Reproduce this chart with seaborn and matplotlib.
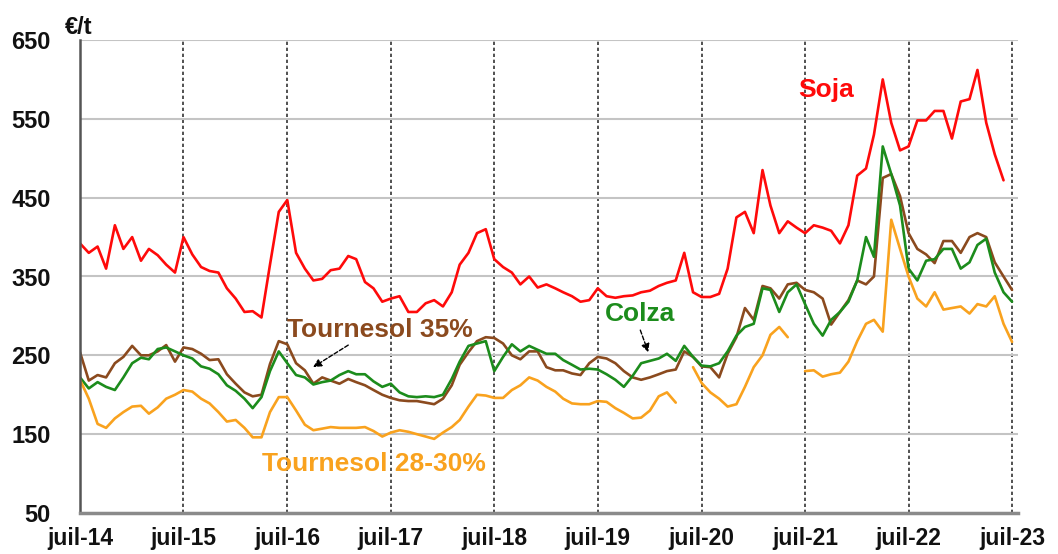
import numpy as np
import pandas as pd
import matplotlib
matplotlib.use("Agg")
import matplotlib.pyplot as plt
import seaborn as sns

# =========================
# DATA (monthly, €/t)
# =========================
dates = pd.date_range("2014-07-01", periods=109, freq="MS")

soja = [392, 380, 388, 360, 415, 385, 400, 370, 385, 377, 365, 355,
        400, 378, 362, 357, 355, 335, 322, 305, 306, 298, 365, 432,
        447, 380, 360, 345, 347, 358, 360, 376, 372, 343, 335, 318,
        322, 325, 305, 305, 316, 320, 312, 330, 365, 380, 405, 410,
        372, 362, 355, 340, 350, 336, 340, 335, 330, 325, 318, 320,
        335, 325, 323, 325, 326, 330, 332, 338, 342, 345, 380, 330,
        324, 324, 328, 360, 425, 432, 405, 485, 440, 405, 420, 412,
        405, 415, 412, 408, 392, 415, 478, 487, 530, 600, 545, 510,
        515, 548, 548, 560, 560, 525, 572, 575, 612, 545, 505, 472,
        np.nan]

tournesol_35 = [254, 218, 225, 222, 240, 248, 262, 250, 250, 255, 263, 242,
                260, 258, 252, 244, 245, 226, 214, 203, 198, 200, 239, 268,
                264, 240, 231, 214, 222, 218, 214, 220, 216, 212, 206, 200,
                196, 193, 192, 192, 190, 188, 195, 212, 238, 254, 268, 273,
                272, 265, 250, 245, 255, 255, 235, 231, 231, 227, 225, 240,
                248, 246, 240, 230, 222, 219, 222, 226, 230, 232, 255, 248,
                236, 235, 222, 252, 273, 310, 295, 338, 335, 322, 340, 342,
                333, 330, 322, 289, 305, 320, 345, 340, 350, 475, 480, 452,
                405, 385, 378, 367, 395, 395, 380, 400, 405, 400, 368, 350,
                333]

colza = [222, 208, 216, 210, 206, 222, 240, 247, 245, 258, 260, 255,
         250, 246, 236, 233, 226, 212, 205, 195, 183, 197, 230, 255,
         240, 225, 222, 213, 216, 218, 225, 230, 226, 226, 217, 210,
         214, 203, 198, 197, 198, 197, 200, 220, 242, 262, 265, 268,
         230, 248, 264, 255, 262, 257, 252, 252, 244, 238, 232, 233,
         232, 226, 219, 210, 224, 240, 243, 246, 252, 243, 262, 248,
         237, 236, 240, 255, 275, 286, 290, 335, 333, 305, 330, 340,
         315, 290, 275, 295, 305, 318, 345, 400, 375, 515, 480, 440,
         360, 345, 370, 372, 385, 385, 360, 368, 390, 398, 355, 330,
         318]

tournesol_28_30 = [219, 195, 163, 158, 170, 178, 185, 186, 176, 184, 195, 200,
                   206, 204, 195, 189, 178, 166, 168, 158, 146, 146, 178, 197,
                   197, 180, 162, 155, 157, 159, 158, 158, 158, 159, 154, 147,
                   152, 155, 153, 150, 147, 144, 152, 159, 168, 185, 200, 199,
                   196, 196, 206, 212, 222, 218, 210, 204, 195, 189, 188, 188,
                   192, 191, 183, 177, 170, 171, 180, 198, 203, 190, np.nan, 235,
                   215, 203, 195, 185, 188, 210, 235, 250, 276, 286, 273, np.nan,
                   230, 231, 223, 226, 228, 242, 268, 290, 295, 280, 422, 385,
                   350, 322, 312, 330, 308, 310, 312, 303, 315, 312, 325, 290,
                   267]

series_names = ["Soja", "Tournesol 35%", "Colza", "Tournesol 28-30%"]
series_values = [soja, tournesol_35, colza, tournesol_28_30]
series_colors = ["#FF0A0A", "#8B4A1E", "#1C8C1C", "#F9A21E"]

year_ticks = pd.date_range("2014-07-01", "2023-07-01", freq="12MS")
year_labels = [f"juil-{d.year % 100:02d}" for d in year_ticks]

# =========================
# STYLE
# =========================
sns.set_style("white")
plt.rcParams["font.family"] = ["Liberation Sans", "DejaVu Sans"]
plt.rcParams["font.weight"] = "bold"

fig = plt.figure(figsize=(10.58, 5.54), dpi=100)
ax = fig.add_axes([80 / 1058, 41 / 554, 938 / 1058, 473 / 554])

# =========================
# LINES
# =========================
for name, values, color in zip(series_names, series_values, series_colors):
    df = pd.DataFrame({"date": dates, "value": values})
    df["seg"] = df["value"].isna().cumsum()
    df = df.dropna()
    sns.lineplot(data=df, x="date", y="value", units="seg", estimator=None,
                 color=color, lw=1.9, ax=ax, legend=False)

# =========================
# AXES
# =========================
ax.set_xlim(pd.Timestamp("2014-07-01"), pd.Timestamp("2023-07-22"))
ax.set_ylim(50, 650)
ax.set_yticks(range(50, 651, 100))
ax.set_xticks(year_ticks)
ax.set_xticklabels(year_labels)
ax.set_xlabel("")
ax.set_ylabel("")

ax.yaxis.grid(True, color="#C4C4C4", lw=1.5)
ax.xaxis.grid(True, color="#333333", lw=1.2, ls=(0, (2, 1.6)))
ax.set_axisbelow(True)

for side in ["top", "right"]:
    ax.spines[side].set_visible(False)
ax.spines["left"].set_color("#555555")
ax.spines["left"].set_linewidth(1.8)
ax.spines["bottom"].set_color("#8A8A8A")
ax.spines["bottom"].set_linewidth(2.5)

ax.tick_params(axis="y", length=4, width=1.5, color="#555555", pad=17,
               labelsize=17, labelcolor="#111111")
ax.tick_params(axis="x", length=4, width=1.5, color="#555555", pad=6,
               labelsize=16.5, labelcolor="#111111")
for lab in ax.get_xticklabels() + ax.get_yticklabels():
    lab.set_fontweight("bold")

fig.text(65 / 1058, 1 - 28 / 554, "€/t", fontsize=17, fontweight="bold",
         ha="left", va="center", color="#111111")

# =========================
# LABELS & ARROWS
# =========================
ax.text(pd.Timestamp("2021-06-08"), 587, "Soja", color=series_colors[0],
        fontsize=19, fontweight="bold", ha="left", va="center")
ax.text(pd.Timestamp("2016-07-01"), 282, "Tournesol 35%", color=series_colors[1],
        fontsize=19, fontweight="bold", ha="left", va="center")
ax.text(pd.Timestamp("2019-07-27"), 302, "Colza", color=series_colors[2],
        fontsize=19, fontweight="bold", ha="left", va="center")
ax.text(pd.Timestamp("2016-04-03"), 112, "Tournesol 28-30%", color=series_colors[3],
        fontsize=19, fontweight="bold", ha="left", va="center")

arrow = dict(arrowstyle="-|>", color="black", lw=1.0, ls=(0, (3, 1.5)),
             mutation_scale=12, shrinkA=0, shrinkB=0)
ax.annotate("", xy=(pd.Timestamp("2016-09-30"), 235),
            xytext=(pd.Timestamp("2017-02-01"), 263), arrowprops=arrow)
ax.annotate("", xy=(pd.Timestamp("2019-12-26"), 254),
            xytext=(pd.Timestamp("2019-11-28"), 282), arrowprops=arrow)

fig.savefig("out.png", dpi=100)
